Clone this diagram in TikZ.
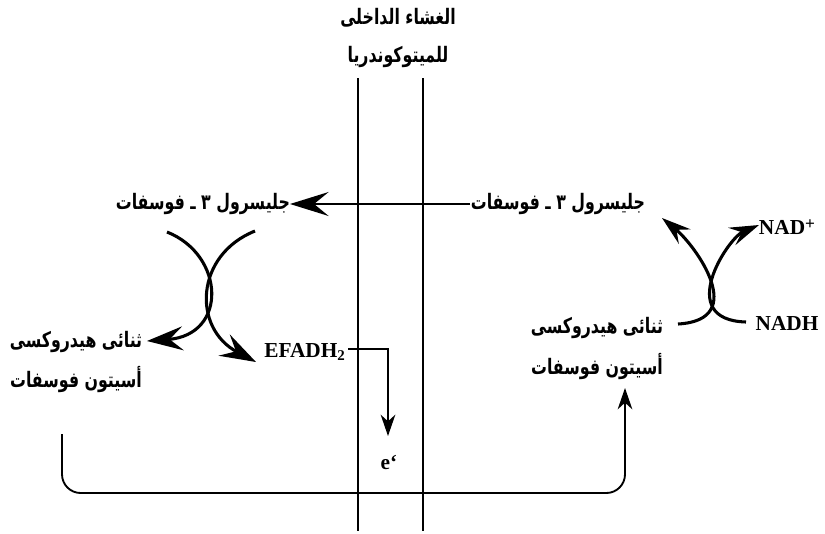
\documentclass[tikz,border=0pt]{standalone}
\usepackage{fontspec}
\usepackage{graphicx}
\setmainfont{Liberation Serif}
\newfontfamily\arabicfont[Script=Arabic]{DejaVu Sans}
\TeXXeTstate=1
\usetikzlibrary{arrows.meta}
% bold Arabic text, set right to left and slightly condensed
\newcommand{\artxt}[1]{\scalebox{0.74}[1]{\arabicfont\bfseries\beginR #1\endR}}
\begin{document}
\begin{tikzpicture}[x=0.75pt,y=-0.75pt,
  arlabel/.style={inner sep=0pt, font=\fontsize{16}{18}\selectfont},
  latlabel/.style={inner sep=0pt, font=\fontsize{16}{18}\selectfont\bfseries},
  membrane/.style={line width=1.8pt},
  flow/.style={line width=2.3pt},
  thin flow/.style={line width=1.4pt},
  hugetip/.style={-{Stealth[length=29pt,width=18pt,inset=11pt]}},
  bigtip/.style={-{Stealth[length=27pt,width=18pt,inset=10pt]}},
  curvetip/.style={-{Stealth[length=22pt,width=14pt,inset=8pt]}},
  midtip/.style={-{Stealth[length=16pt,width=11pt,inset=5pt]}}]
\useasboundingbox (0,0) rectangle (825,533);

% membrane title
\node[arlabel] (title1) at (398,18) {\artxt{الغشاء الداخلى}};
\node[arlabel] (title2) at (398,57) {\artxt{للميتوكوندريا}};

% inner mitochondrial membrane
\coordinate (m1t) at (358,78);  \coordinate (m1b) at (358,531);
\coordinate (m2t) at (423,78);  \coordinate (m2b) at (423,531);
\draw[membrane] (m1t) -- (m1b);
\draw[membrane] (m2t) -- (m2b);

% metabolites
\node[arlabel] (gl) at (203,204) {\artxt{جليسرول ٣ ـ فوسفات}};
\node[arlabel] (gr) at (558,204) {\artxt{جليسرول ٣ ـ فوسفات}};
\node[arlabel] (dl1) at (76,342) {\artxt{ثنائى هيدروكسى}};
\node[arlabel] (dl2) at (76,380) {\artxt{أسيتون فوسفات}};
\node[arlabel] (dr1) at (597,328) {\artxt{ثنائى هيدروكسى}};
\node[arlabel] (dr2) at (597,367) {\artxt{أسيتون فوسفات}};
\node[latlabel] (efadh) at (305,352) {EFADH$_{\mathbf 2}$};
\node[latlabel] (nadp) at (787,227) {NAD\raisebox{0.45ex}{\fontsize{13}{13}\selectfont +}};
\node[latlabel] (nadh) at (787,323) {NADH};
\node[latlabel] (el) at (389,462) {e`};

% glycerol 3-phosphate shuttle across the membrane
\coordinate (hs) at (470,204);
\coordinate (he) at (290,204);
\draw[thin flow, hugetip] (hs) -- (he);

% cytosolic coupled reaction
\coordinate (a1) at (678,324);  \coordinate (a2) at (662,218);
\coordinate (b1) at (746,322);  \coordinate (b2) at (759,225);
\draw[flow, curvetip] (a1) .. controls (750,320) and (695,245) .. (a2);
\draw[flow, curvetip] (b1) .. controls (674,320) and (728,238) .. (b2);

% matrix-side coupled reaction
\coordinate (c1) at (167,232);  \coordinate (c2) at (147,341);
\coordinate (d1) at (255,231);  \coordinate (d2) at (256,362);
\draw[flow, bigtip] (c1) .. controls (225,255) and (228,335) .. (c2);
\draw[flow, bigtip] (d1) .. controls (195,255) and (192,328) .. (d2);

% electrons from EFADH2
\coordinate (ea) at (348,349);
\coordinate (eb) at (388,349);
\coordinate (ec) at (388,436);
\draw[thin flow, midtip] (ea) -- (eb) -- (ec);

% return of dihydroxyacetone phosphate
\coordinate (ra) at (62,434);
\coordinate (rb) at (62,493);
\coordinate (rc) at (625,493);
\coordinate (rd) at (625,388);
\draw[thin flow, midtip, rounded corners=14pt] (ra) -- (rb) -- (rc) -- (rd);
\end{tikzpicture}
\end{document}
